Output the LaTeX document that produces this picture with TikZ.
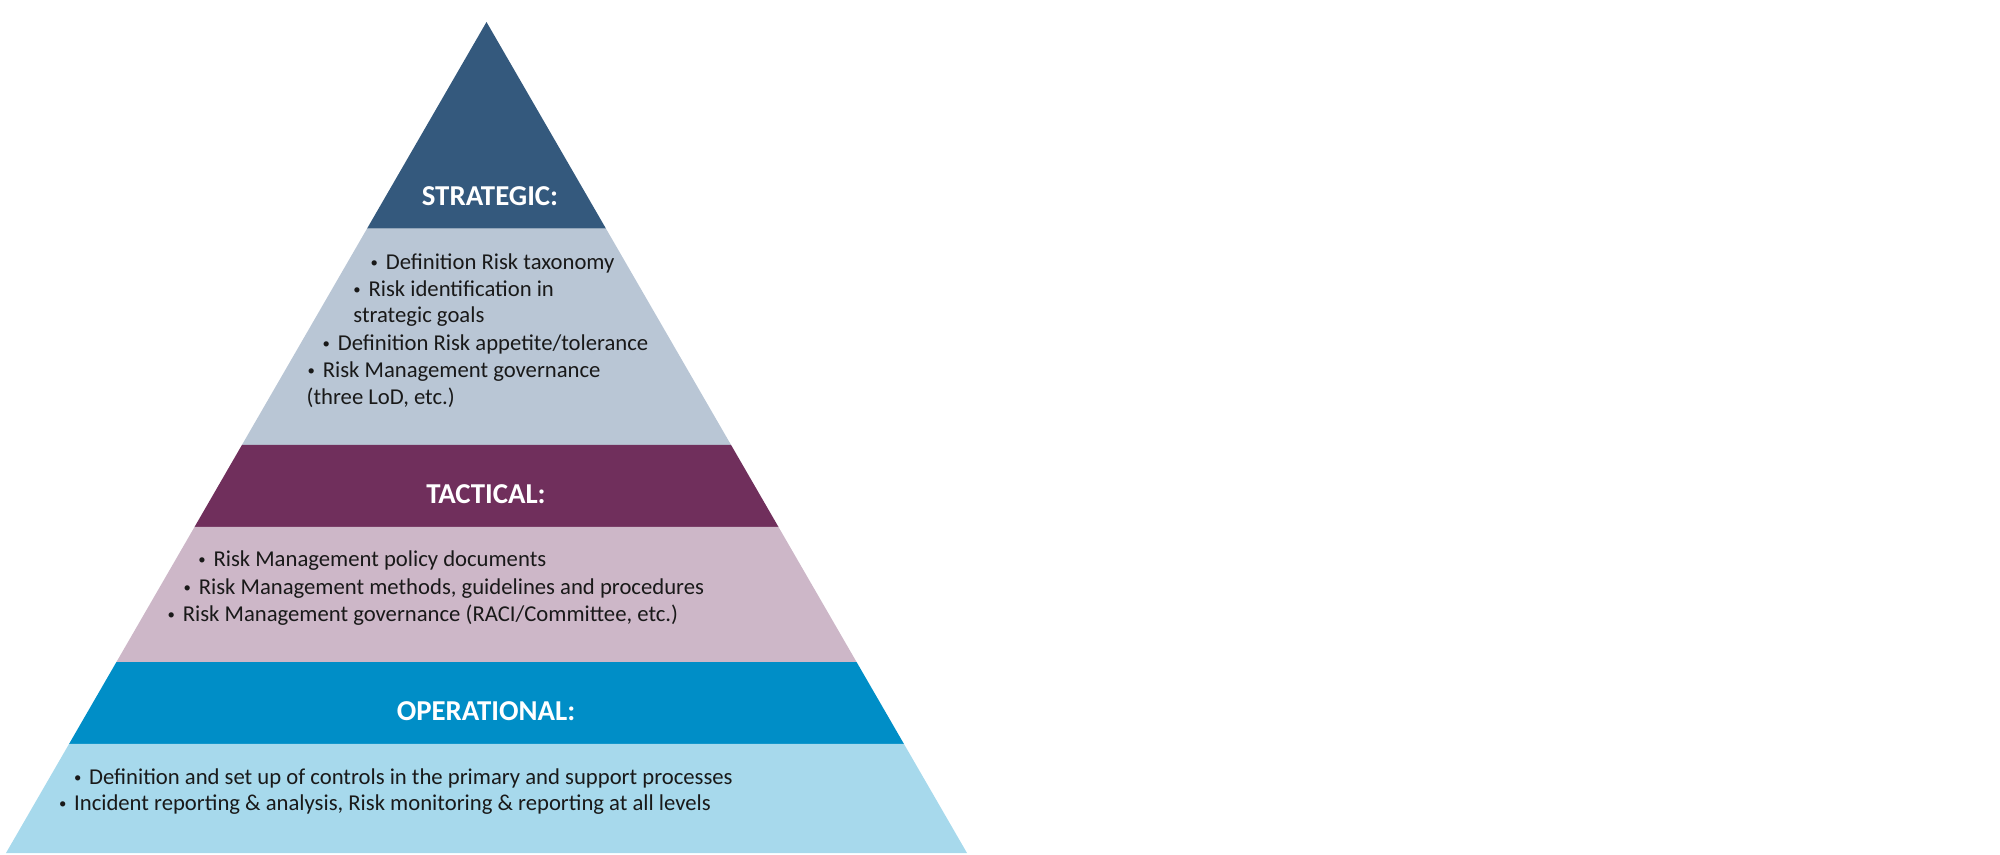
\documentclass[tikz,border=0pt]{standalone}
\usepackage{fontspec}
\setmainfont{Carlito}
\usetikzlibrary{calc}
\definecolor{stratdark}{RGB}{52,89,125}
\definecolor{stratlight}{RGB}{185,198,213}
\definecolor{tactdark}{RGB}{112,47,92}
\definecolor{tactlight}{RGB}{205,183,200}
\definecolor{operdark}{RGB}{0,142,199}
\definecolor{operlight}{RGB}{167,217,236}
\tikzstyle{itemtext}=[anchor=base west,inner sep=0pt,text=black!90,font=\fontsize{6.45}{7}\selectfont]
\tikzstyle{leveltitle}=[anchor=base,inner sep=0pt,text=white,font=\fontsize{8.2}{9}\selectfont\bfseries]
\newcommand{\itm}{\makebox[4.3pt][l]{\raisebox{0.55pt}{\fontsize{4.2}{4}\selectfont\textbullet}}}

\begin{document}
\begin{tikzpicture}[x=0.01cm,y=-0.01cm]
    \useasboundingbox (0,0) rectangle (2000,855);
    % Corners of the pyramid
    \coordinate (apex) at (486.5,22);
    \coordinate (bl) at (6,853);
    \coordinate (br) at (967,853);

    % Left and right points of the band borders
    \foreach \t/\name in {0/0, 0.2485/1, 0.5090/2, 0.6077/3, 0.7702/4, 0.8688/5, 1/6}
        {
        \coordinate (L\name) at ($(apex)!\t!(bl)$);
        \coordinate (R\name) at ($(apex)!\t!(br)$);
        }

    % Fill the bands
    \foreach \a/\b/\col in {0/1/stratdark, 1/2/stratlight, 2/3/tactdark, 3/4/tactlight, 4/5/operdark, 5/6/operlight}
        \fill[\col] (L\a) -- (R\a) -- (R\b) -- (L\b) -- cycle;

    % Titles of the levels
    \foreach \pos/\name/\label in {{(490,206)/strategic/STRATEGIC:}, {(486,503.3)/tactical/TACTICAL:}, {(486,720)/operational/OPERATIONAL:}}
        \node[leveltitle] (\name) at \pos {\label};

    % Items of the levels
    \foreach \pos/\name/\label in {{(370,269.5)/s1/{\itm Definition Risk taxonomy}}, {(352.7,296.7)/s2/{\itm Risk identification in}}, {(352.7,323)/s3/{strategic goals}}, {(322,350.7)/s4/{\itm Definition Risk appetite/tolerance}}, {(307,377.7)/s5/{\itm Risk Management governance}}, {(306,405)/s6/{(three LoD, etc.)}}}
        \node[itemtext] (\name) at \pos {\label};

    \foreach \pos/\name/\label in {{(197.7,566.7)/t1/{\itm Risk Management policy documents}}, {(183,594)/t2/{\itm Risk Management methods, guidelines and procedures}}, {(167,621)/t3/{\itm Risk Management governance (RACI/Committee, etc.)}}}
        \node[itemtext] (\name) at \pos {\label};

    \foreach \pos/\name/\label in {{(73.3,784.3)/o1/{\itm Definition and set up of controls in the primary and support processes}}, {(58.3,810)/o2/{\itm Incident reporting \& analysis, Risk monitoring \& reporting at all levels}}}
        \node[itemtext] (\name) at \pos {\label};
\end{tikzpicture}
\end{document}
